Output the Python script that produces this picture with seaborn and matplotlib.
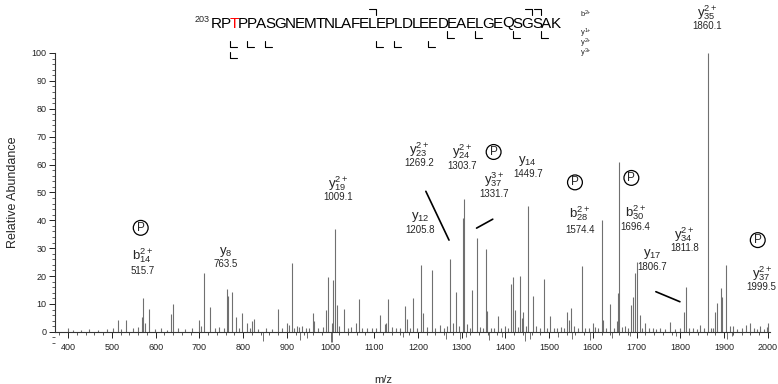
import pandas as pd
import numpy as np

import seaborn as sns
import matplotlib.pyplot as plt
from matplotlib.lines import Line2D
from matplotlib.ticker import MultipleLocator

# spectrum sticks (m/z, relative abundance)
mz = [400, 412, 430, 447, 468, 488, 503, 515, 522, 533, 548, 560, 568, 572, 576, 585,
      598, 612, 625, 635, 639, 652, 668, 684, 699, 703, 711, 725, 736, 746, 756, 763,
      766, 774, 783, 790, 797, 808, 815, 821, 825, 834, 852, 866, 879, 888, 900, 904,
      911, 917, 923, 929, 934, 944, 951, 959, 962, 972, 982, 990, 995, 1003, 1006, 1010,
      1014, 1020, 1031, 1040, 1048, 1058, 1065, 1073, 1083, 1095, 1104, 1113, 1125, 1127,
      1132, 1140, 1150, 1160, 1170, 1174, 1181, 1189, 1198, 1208, 1212, 1220, 1233, 1239,
      1250, 1259, 1266, 1273, 1279, 1287, 1294, 1303, 1306, 1313, 1318, 1324, 1334, 1341,
      1348, 1355, 1358, 1366, 1375, 1384, 1391, 1399, 1407, 1413, 1417, 1422, 1428, 1433,
      1437, 1441, 1446, 1451, 1462, 1471, 1478, 1488, 1495, 1503, 1510, 1517, 1526, 1533,
      1540, 1546, 1549, 1556, 1566, 1576, 1583, 1592, 1601, 1605, 1612, 1620, 1622, 1630,
      1640, 1648, 1654, 1658, 1660, 1666, 1673, 1680, 1688, 1692, 1696, 1700, 1707, 1712,
      1719, 1728, 1738, 1745, 1753, 1764, 1776, 1788, 1799, 1808, 1813, 1820, 1829, 1838,
      1846, 1854, 1863, 1870, 1875, 1879, 1884, 1893, 1896, 1904, 1913, 1921, 1930, 1940,
      1951, 1959, 1968, 1975, 1982, 1992, 1999, 2001]
abundance = [1.2, 0.8, 0.6, 1.0, 0.7, 0.9, 1.5, 4.3, 1.0, 4.3, 1.2, 1.8, 5.5, 12.0, 3.0, 8.2,
             1.0, 1.3, 0.8, 6.4, 10.0, 1.2, 0.9, 1.5, 4.3, 2.0, 21.0, 9.0, 1.2, 1.9, 1.5, 15.3,
             13.0, 14.4, 5.5, 1.4, 6.6, 3.3, 1.2, 3.9, 4.6, 1.0, 1.3, 1.0, 8.2, 1.5, 3.2, 2.4,
             24.6, 1.2, 2.0, 1.6, 2.2, 1.4, 1.2, 6.8, 4.0, 1.3, 1.6, 7.7, 19.6, 3.0, 18.6, 37.0,
             9.6, 2.0, 8.1, 1.4, 1.7, 3.0, 11.7, 1.5, 1.5, 1.2, 1.5, 6.0, 2.8, 3.3,
             11.7, 1.6, 1.2, 1.4, 9.3, 4.7, 1.2, 12.0, 1.5, 24.0, 6.8, 1.6, 22.0, 1.5,
             2.5, 1.3, 2.0, 26.0, 3.0, 14.2, 2.2, 41.0, 47.5, 2.8, 1.5, 15.0, 33.7, 1.8,
             1.4, 29.6, 7.4, 1.5, 1.3, 5.6, 1.2, 2.0, 1.5, 17.0, 19.8, 7.7, 1.6, 20.0,
             5.0, 7.1, 2.0, 45.0, 13.0, 2.0, 1.4, 19.0, 1.5, 5.6, 1.2, 1.5, 1.8, 1.3,
             7.1, 4.3, 8.4, 2.0, 1.5, 23.6, 1.4, 1.2, 3.0, 1.8, 1.5, 40.0, 4.3, 1.3,
             10.0, 1.5, 4.0, 14.0, 61.0, 1.6, 2.0, 1.4, 9.5, 12.5, 21.0, 25.0, 6.0, 1.5,
             3.1, 1.2, 1.3, 1.0, 1.5, 1.0, 3.7, 1.1, 1.3, 7.0, 16.0, 1.4, 1.2, 1.0,
             2.4, 1.2, 100.0, 1.4, 1.5, 7.0, 10.3, 15.7, 12.6, 24.0, 2.0, 2.0, 1.0, 1.3,
             2.5, 3.0, 1.2, 1.0, 2.2, 1.0, 1.9, 3.0]

# short sticks hanging below the baseline
below_mz = [846, 931, 947, 1001, 1004, 1166, 1265, 1297, 1309, 1362, 1392, 1445, 1457,
            1521, 1553, 1593, 1644, 1684, 1791, 1907, 1919]
below_ab = [-3.2, -2.8, -2.3, -3.5, -3.8, -2.0, -2.5, -2.5, -2.0, -3.0, -1.8, -3.2, -2.6,
            -2.0, -2.4, -3.0, -2.2, -1.6, -1.4, -2.5, -1.6]

# fragment ion labels
ion_names = [r'b^{2+}_{14}', r'y_{8}', r'y^{2+}_{19}', r'y_{12}', r'y^{2+}_{23}', r'y^{2+}_{24}',
             r'y^{3+}_{37}', r'y_{14}', r'b^{2+}_{28}', r'b^{2+}_{30}', r'y_{17}', r'y^{2+}_{34}',
             r'y^{2+}_{35}', r'y^{2+}_{37}']
ion_values = ['515.7', '763.5', '1009.1', '1205.8', '1269.2', '1303.7', '1331.7', '1449.7',
              '1574.4', '1696.4', '1806.7', '1811.8', '1860.1', '1999.5']
# label anchors (m/z, name height, value height)
ion_x = [571, 761, 1017, 1205, 1203, 1301, 1374, 1451, 1570, 1698, 1736, 1809, 1862, 1986]
ion_y = [27.2, 28.6, 53.3, 41.1, 65.4, 64.6, 54.7, 61.1, 42.5, 42.9, 27.9, 35.0, 114.3, 20.8]
val_y = [21.9, 24.5, 48.4, 36.6, 60.5, 59.4, 49.5, 56.7, 36.6, 37.7, 23.4, 30.0, 109.7, 16.2]

# phospho markers
phos_x = [566, 1373, 1559, 1688, 1977]
phos_y = [37.3, 64.5, 53.6, 55.2, 32.9]

# leader lines
leaders = [((1218, 50.4), (1271, 32.9)), ((1334, 37.2), (1371, 40.4)), ((1744, 14.4), (1799, 10.8))]

sequence = 'RPTPPASGNEMTNLAFELEPLDLEEDEAELGEQSGSAK'
b_sites = [18, 35, 36]
y1_sites = [26, 29, 33, 36]
y2_sites = [2, 4, 6, 18, 20, 24]
y3_sites = [2]

sns.set_style('ticks')
plt.rcParams['font.family'] = ['Liberation Sans', 'DejaVu Sans']
plt.rcParams['mathtext.fontset'] = 'custom'
plt.rcParams['mathtext.rm'] = 'Liberation Sans'
plt.rcParams['mathtext.it'] = 'Liberation Sans:italic'

W, H = 778, 384
fig = plt.figure(figsize=(W / 100, H / 100), dpi=100)
ax = fig.add_axes([55 / W, 1 - 343 / H, 715 / W, 290 / H])

df = pd.DataFrame({'mz': mz, 'abundance': abundance})
ax.vlines(df['mz'], 0, df['abundance'], color='#707070', lw=0.8)
ax.vlines(below_mz, 0, below_ab, color='#707070', lw=0.7)

ax.set_xlim(370, 2005)
ax.set_ylim(-4, 100)
ax.spines['top'].set_visible(False)
ax.spines['right'].set_visible(False)
ax.spines['bottom'].set_position(('data', 0))
ax.spines['left'].set_bounds(0, 100)
for s in ['bottom', 'left']:
    ax.spines[s].set_linewidth(0.8)
    ax.spines[s].set_color('#333333')
ax.set_xticks(np.arange(400, 2001, 100))
ax.set_yticks(np.arange(0, 101, 10))
ax.xaxis.set_minor_locator(MultipleLocator(20))
ax.yaxis.set_minor_locator(MultipleLocator(2))
ax.tick_params(axis='both', which='major', length=4, width=0.7, labelsize=6.5, pad=2, colors='#222222')
ax.tick_params(axis='x', which='major', pad=4)
ax.tick_params(axis='both', which='minor', length=2.5, width=0.6, colors='#444444')

for name, val, x, y1, y2 in zip(ion_names, ion_values, ion_x, ion_y, val_y):
    ax.text(x, y1, r'$\mathregular{' + name + '}$', fontsize=9.5, ha='center', va='center', clip_on=False)
    ax.text(x, y2, val, fontsize=7, ha='center', va='center', clip_on=False)

for x, y in zip(phos_x, phos_y):
    ax.text(x, y, 'P', fontsize=8.5, ha='center', va='center',
            bbox=dict(boxstyle='circle,pad=0.12', fc='white', ec='black', lw=0.9))

for (x0, y0), (x1, y1) in leaders:
    ax.plot([x0, x1], [y0, y1], color='black', lw=1.2, clip_on=False)

fig.text(13 / W, 1 - 192 / H, 'Relative Abundance', rotation=90, fontsize=9, ha='center', va='center')
fig.text(383 / W, 1 - 380 / H, 'm/z', fontsize=8, ha='center', va='center')

# peptide sequence with fragment brackets
renderer = fig.canvas.get_renderer()
seq_y = 1 - 23.5 / H
fig.text(210 / W, 1 - 19 / H, '203', fontsize=6.5, ha='right', va='center')
xpos = 210.5
edges = [xpos]
for i, aa in enumerate(sequence):
    t = fig.text(xpos / W, seq_y, aa, fontsize=11, ha='left', va='center',
                 color='red' if i == 2 else 'black')
    xpos += t.get_window_extent(renderer).width * 0.9
    edges.append(xpos)


def px_line(xs, ys):
    fig.add_artist(Line2D([x / W for x in xs], [1 - y / H for y in ys],
                          transform=fig.transFigure, color='black', lw=0.8))


for n in b_sites:
    e = edges[n]
    px_line([e - 7, e, e], [9, 9, 15])
for n in y1_sites:
    e = edges[n]
    px_line([e, e, e + 7], [31, 38, 38])
for n in y2_sites:
    e = edges[n]
    px_line([e, e, e + 7], [41, 47, 47])
for n in y3_sites:
    e = edges[n]
    px_line([e, e, e + 7], [52, 58, 58])

for lab, yy in zip(['b', 'y', 'y', 'y'], [15, 33, 43, 53]):
    fig.text(581 / W, 1 - yy / H, lab, fontsize=5.5, ha='left', va='center')
for lab, yy in zip(['2+', '1+', '2+', '3+'], [13, 31, 41, 51]):
    fig.text(585 / W, 1 - yy / H, lab, fontsize=4, ha='left', va='center')

plt.savefig('out.png', dpi=100)
